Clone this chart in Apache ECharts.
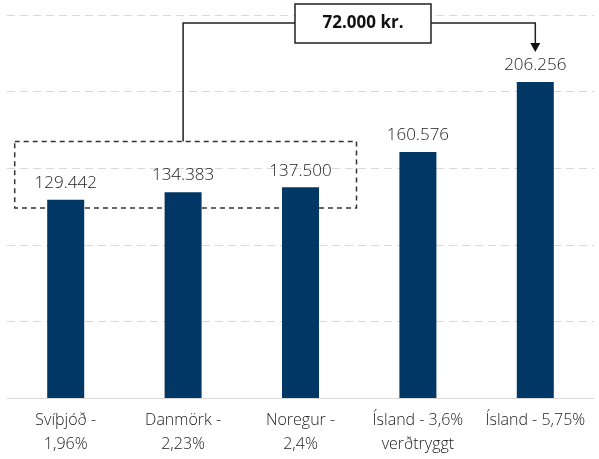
<!DOCTYPE html>
<html>
<head>
<meta charset="utf-8">
<script src="https://cdn.jsdelivr.net/npm/echarts@6/dist/echarts.min.js"></script>
<style>
  html, body { margin: 0; padding: 0; background: #fff; }
  #chart { width: 599px; height: 459px; }
</style>
</head>
<body>
<div id="chart"></div>
<script>
// categories and values
const categories = ['Svíþjóð -\n1,96%', 'Danmörk -\n2,23%', 'Noregur -\n2,4%', 'Ísland - 3,6%\nverðtryggt', 'Ísland - 5,75%']
const values = [129442, 134383, 137500, 160576, 206256]
const diffLabel = '72.000 kr.'

const font = '"Open Sans", "Noto Sans", sans-serif'
const barColor = '#013764'

const chart = echarts.init(document.getElementById('chart'))

chart.setOption({
  animation: false,
  grid: { left: 7, right: 5, top: 15, bottom: 61 },
  xAxis: {
    type: 'category',
    data: categories,
    axisTick: { show: false },
    axisLine: { lineStyle: { color: '#d9d9d9', width: 1 } },
    axisLabel: {
      interval: 0,
      margin: 10,
      fontFamily: font,
      fontWeight: 300,
      fontSize: 16,
      lineHeight: 24,
      color: '#222'
    }
  },
  yAxis: {
    type: 'value',
    min: 0,
    max: 250000,
    interval: 50000,
    axisLabel: { show: false },
    axisLine: { show: false },
    axisTick: { show: false },
    splitLine: { lineStyle: { color: '#d9d9d9', type: [8, 5] } }
  },
  series: [{
    type: 'bar',
    data: values,
    barWidth: 37,
    itemStyle: { color: barColor },
    label: {
      show: true,
      position: 'top',
      distance: 8,
      fontFamily: font,
      fontWeight: 300,
      fontSize: 17,
      color: '#222',
      formatter: p => p.value.toLocaleString('de-DE')
    }
  }]
})

// annotation: bracket around first three bars, pointer to last bar
const px = (i, v) => chart.convertToPixel({ seriesIndex: 0 }, [i, v])
const rectL = px(0, 0)[0] - 51
const rectR = px(2, 0)[0] + 56
const rectT = px(0, 167500)[1]
const rectB = px(0, 124000)[1]
const leftX = px(1, 0)[0]
const rightX = px(4, 0)[0]
const lineY = 23
const tipY = px(4, values[4])[1] - 30
const boxL = 295, boxR = 431, boxT = 4, boxB = 43

chart.setOption({
  graphic: [
    {
      type: 'rect', silent: true,
      shape: { x: rectL, y: rectT, width: rectR - rectL, height: rectB - rectT },
      style: { fill: 'none', stroke: '#333', lineWidth: 1.5, lineDash: [5, 4] }
    },
    {
      type: 'polyline', silent: true,
      shape: { points: [[leftX, rectT], [leftX, lineY], [boxL, lineY]] },
      style: { fill: 'none', stroke: '#222', lineWidth: 1.5 }
    },
    {
      type: 'polyline', silent: true,
      shape: { points: [[boxR, lineY], [rightX, lineY], [rightX, tipY - 8]] },
      style: { fill: 'none', stroke: '#222', lineWidth: 1.5 }
    },
    {
      type: 'polygon', silent: true,
      shape: { points: [[rightX - 5, tipY - 9], [rightX + 5, tipY - 9], [rightX, tipY]] },
      style: { fill: '#111' }
    },
    {
      type: 'rect', silent: true,
      shape: { x: boxL, y: boxT, width: boxR - boxL, height: boxB - boxT },
      style: { fill: '#fff', stroke: '#222', lineWidth: 1.5 }
    },
    {
      type: 'text', silent: true,
      x: (boxL + boxR) / 2, y: (boxT + boxB) / 2,
      style: {
        text: diffLabel, fontFamily: font, fontWeight: 'bold', fontSize: 17,
        fill: '#111', align: 'center', verticalAlign: 'middle'
      }
    }
  ]
})
</script>
</body>
</html>
